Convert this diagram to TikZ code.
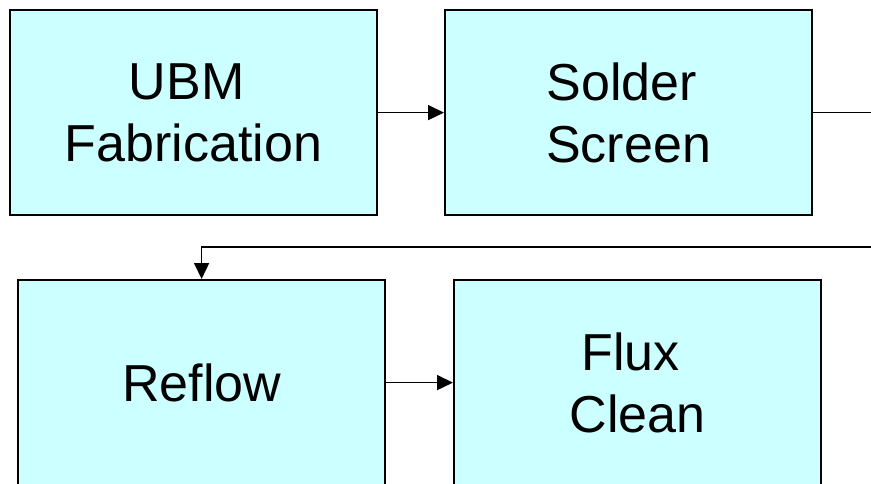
\documentclass[tikz,border=0pt]{standalone}
\usepackage{fontspec}
\setmainfont{Liberation Sans}
\definecolor{main}{RGB}{204,255,255}
\usepackage{tikz}
\usetikzlibrary{
	arrows.meta,
	positioning
}
\tikzset{
  % arrow
	cstra/.style      ={-{Triangle[length=16pt,width=15pt]}, line width=1.6pt},
  % node
	cstnode/.style    ={fill=main,draw=black,text=black,line width=2.2pt,
		minimum width=367pt,minimum height=205pt,align=center,inner sep=0pt,
		font=\fontsize{52}{62}\selectfont}
}
\newcommand{\cstsp}{\hspace*{.27em}} % trailing space of first line

\begin{document}
\begin{tikzpicture}[x=1pt,y=-1pt]
	\useasboundingbox (0,0) rectangle (871,484);
	\node[cstnode,anchor=north west] (ubm) at (9,9) {UBM\cstsp\\Fabrication};
	\node[cstnode,anchor=north west] (solder) at (444,9) {Solder\cstsp\\Screen};
	\node[cstnode,anchor=north west] (reflow) at (17,279) {Reflow};
	\node[cstnode,anchor=north west] (flux) at (453,279) {Flux\cstsp\\Clean};
	\coordinate (turn) at (875,247);
	\draw[cstra] (ubm) -- (solder);
	\draw[cstra] (solder.east) -| (turn) -| (reflow.north);
	\draw[cstra] (reflow) -- (flux);
\end{tikzpicture}
\end{document}
